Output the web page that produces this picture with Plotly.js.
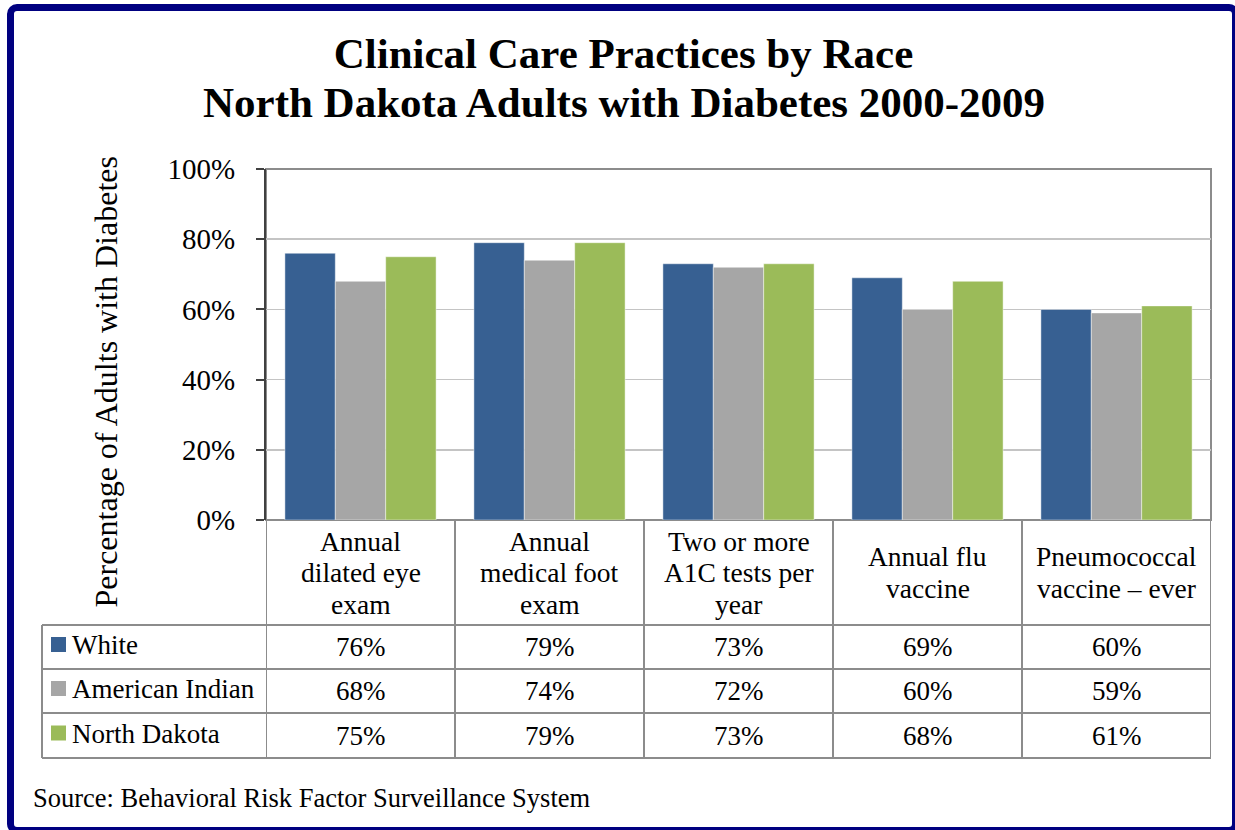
<!DOCTYPE html>
<html>
<head>
<meta charset="utf-8">
<script src="https://cdn.plot.ly/plotly-3.0.1.min.js"></script>
<style>
  html, body { margin: 0; padding: 0; background: #ffffff; overflow: hidden; }
  #wrap { position: relative; width: 1235px; height: 830px; }
  #chart { position: absolute; left: 0; top: 0; width: 1235px; height: 830px; }
  #frame {
    position: absolute; left: 7px; top: 4px; width: 1232px; height: 830px;
    box-sizing: border-box; border: 7px solid #000080; border-radius: 10px;
    pointer-events: none;
  }
</style>
</head>
<body>
<div id="wrap">
  <div id="chart"></div>
  <div id="frame"></div>
</div>
<script>
// Clinical care practices, North Dakota adults with diabetes, 2000-2009
const categoryLines = [
  ['Annual', 'dilated eye', 'exam'],
  ['Annual', 'medical foot', 'exam'],
  ['Two or more', 'A1C tests per', 'year'],
  ['Annual flu', 'vaccine'],
  ['Pneumococcal', 'vaccine \u2013 ever']
];
const categories = categoryLines.map(l => l.join(' '));

const seriesNames = ['White', 'American Indian', 'North Dakota'];
const white = [0.76, 0.79, 0.73, 0.69, 0.60];
const americanIndian = [0.68, 0.74, 0.72, 0.60, 0.59];
const northDakota = [0.75, 0.79, 0.73, 0.68, 0.61];
const seriesColors = ['#376092', '#a6a6a6', '#9bbb59'];

const yTicks = [0, 0.2, 0.4, 0.6, 0.8, 1.0];

const titleLine1 = 'Clinical Care Practices by Race';
const titleLine2 = 'North Dakota Adults with Diabetes 2000-2009';
const yTitle = 'Percentage of Adults with Diabetes';
const sourceNote = 'Source: Behavioral Risk Factor Surveillance System';

// ---- geometry (pixels on the 1235x830 page) ----
const W = 1235, H = 830;
const M = { l: 266, r: 24, t: 169, b: 310 };
const plotW = W - M.l - M.r;   // 945
const plotH = H - M.t - M.b;   // 351
const px2x = px => (px - M.l) / plotW;
const py2y = py => (H - M.b - py) / plotH;

const SERIF = 'Liberation Serif, Times New Roman, serif';
const gridLine = '#8c8c8c';

const seriesValues = [white, americanIndian, northDakota];

const traces = seriesValues.map((vals, i) => ({
  type: 'bar',
  name: seriesNames[i],
  x: categories,
  y: vals,
  marker: { color: seriesColors[i], line: { color: 'rgba(255,255,255,0.45)', width: 1 } },
  hoverinfo: 'x+y+name'
}));

// table rows below the plot
const headerTop = 520, headerBottom = 625;
const rowEdges = [625, 669, 713, 758];
const tableLeft = 42;

const shapes = [];
const annotations = [];

// plot-area border (top, right, bottom)
shapes.push({ type: 'rect', xref: 'paper', yref: 'paper', x0: 0, x1: 1, y0: 0, y1: 1,
  line: { color: gridLine, width: 2 }, layer: 'below' });

// column dividers from the axis down through the table
for (let c = 0; c <= categories.length; c++) {
  shapes.push({ type: 'line', xref: 'x', yref: 'paper',
    x0: c - 0.5, x1: c - 0.5, y0: 0, y1: py2y(rowEdges[rowEdges.length - 1]),
    line: { color: gridLine, width: 2 } });
}
// horizontal row lines
rowEdges.forEach(py => {
  shapes.push({ type: 'line', xref: 'paper', yref: 'paper',
    x0: px2x(tableLeft), x1: 1, y0: py2y(py), y1: py2y(py),
    line: { color: gridLine, width: 2 } });
});
// left edge of the legend column
shapes.push({ type: 'line', xref: 'paper', yref: 'paper',
  x0: px2x(tableLeft), x1: px2x(tableLeft), y0: py2y(rowEdges[0]), y1: py2y(rowEdges[3]),
  line: { color: gridLine, width: 2 } });

// category header text, one annotation per line
const headerMid = (headerTop + headerBottom) / 2;
const headerLineGap = 31.5;
categoryLines.forEach((lines, c) => {
  lines.forEach((txt, k) => {
    const cy = headerMid + (k - (lines.length - 1) / 2) * headerLineGap;
    annotations.push({ xref: 'x', yref: 'paper', x: c, y: py2y(cy),
      text: txt, showarrow: false, xanchor: 'center', yanchor: 'middle',
      font: { family: SERIF, size: 27.5, color: '#000000' } });
  });
});

// data rows: legend key, series name and values
seriesNames.forEach((name, r) => {
  const cy = (rowEdges[r] + rowEdges[r + 1]) / 2;
  shapes.push({ type: 'rect', xref: 'paper', yref: 'paper',
    x0: px2x(51), x1: px2x(66), y0: py2y(cy - 10), y1: py2y(cy + 5),
    fillcolor: seriesColors[r], line: { width: 0 } });
  annotations.push({ xref: 'paper', yref: 'paper', x: px2x(70), y: py2y(cy - 2),
    text: name, showarrow: false, xanchor: 'left', yanchor: 'middle',
    font: { family: SERIF, size: 27, color: '#000000' } });
  seriesValues[r].forEach((v, c) => {
    annotations.push({ xref: 'x', yref: 'paper', x: c, y: py2y(cy),
      text: Math.round(v * 100) + '%', showarrow: false, xanchor: 'center', yanchor: 'middle',
      font: { family: SERIF, size: 27, color: '#000000' } });
  });
});

// second title line
annotations.push({ xref: 'paper', yref: 'paper', x: px2x(623.5), y: py2y(102.2),
  text: titleLine2, showarrow: false, xanchor: 'center', yanchor: 'middle',
  font: { family: SERIF, size: 43, weight: 'bold', color: '#000000' } });

// vertical axis title
annotations.push({ xref: 'paper', yref: 'paper', x: px2x(105), y: py2y(382.5),
  text: yTitle, showarrow: false, textangle: -90, xanchor: 'center', yanchor: 'middle',
  font: { family: SERIF, size: 32, color: '#000000' } });

// source note
annotations.push({ xref: 'paper', yref: 'paper', x: px2x(31), y: py2y(797.8),
  text: sourceNote, showarrow: false, xanchor: 'left', yanchor: 'middle',
  font: { family: SERIF, size: 26.5, color: '#000000' } });

const layout = {
  width: W, height: H, autosize: false,
  margin: M,
  paper_bgcolor: '#ffffff', plot_bgcolor: '#ffffff',
  showlegend: false,
  barmode: 'group', bargap: 0.2, bargroupgap: 0,
  title: {
    text: titleLine1,
    font: { family: SERIF, size: 43, weight: 'bold', color: '#000000' },
    xref: 'container', yref: 'container',
    x: 623.5 / W, xanchor: 'center',
    y: 1 - 53.3 / H, yanchor: 'middle'
  },
  xaxis: {
    type: 'category', range: [-0.5, categories.length - 0.5],
    showticklabels: false, showgrid: false, showline: false, zeroline: false, ticks: ''
  },
  yaxis: {
    range: [0, 1], tickvals: yTicks, tickformat: '.0%',
    showgrid: true, gridcolor: '#c4c4c4', gridwidth: 1.5, zeroline: false,
    showline: true, linecolor: '#404040', linewidth: 2,
    ticks: 'outside', ticklen: 8, tickwidth: 2, tickcolor: '#404040',
    ticklabelstandoff: 15,
    tickfont: { family: SERIF, size: 29, color: '#000000' }
  },
  shapes: shapes,
  annotations: annotations
};

Plotly.newPlot('chart', traces, layout, { displayModeBar: false, staticPlot: true });
</script>
</body>
</html>
